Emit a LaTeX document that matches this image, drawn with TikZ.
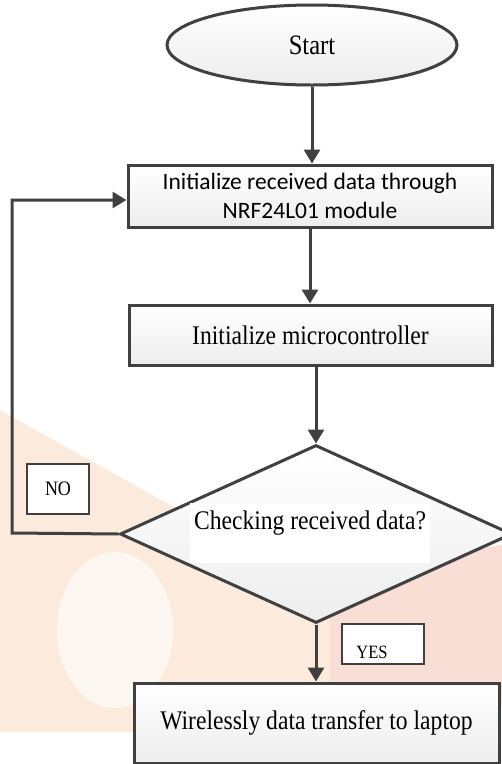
\documentclass[tikz,border=0pt]{standalone}
\usepackage{fontspec}
\setmainfont{Liberation Serif}
\newfontfamily\calib{Carlito}
\usetikzlibrary{shapes.geometric,arrows.meta,shadows}
\definecolor{ln}{HTML}{404040}
\definecolor{peach}{HTML}{FCEBDD}
\definecolor{pinkish}{HTML}{F9DED6}
\newcommand{\tall}[1]{\scalebox{1}[1.14]{#1}}
\begin{document}
\begin{tikzpicture}[x=1pt,y=-1pt,
  shp/.style={draw=ln,line width=3pt,top color=white,bottom color=gray!14,
    drop shadow={shadow xshift=1.5pt,shadow yshift=-1.5pt,opacity=0.25}},
  procbox/.style={shp,rectangle,inner sep=0pt,font=\fontsize{23.6}{27}\selectfont},
  tagbox/.style={draw=ln,line width=2.8pt,fill=white,rectangle,inner sep=0pt,
    drop shadow={shadow xshift=1pt,shadow yshift=-1pt,opacity=0.25}},
  arr/.style={draw=ln,line width=3pt,-{Triangle[width=16pt,length=14pt]}}]
\useasboundingbox (0,0) rectangle (502,764);
% faint watermark
\fill[peach] (0,410) -- (170,505) -- (330,570) -- (330,732) -- (0,732) -- cycle;
\fill[pinkish] (330,572) -- (502,545) -- (502,705) -- (330,705) -- cycle;
\fill[white,opacity=0.6] (115,630) ellipse (58 and 78);
% nodes
\node[shp,ellipse,minimum width=290,minimum height=80,inner sep=0pt,
  font=\fontsize{24.6}{28}\selectfont] (start) at (312,45) {\tall{Start}};
\node[procbox,minimum width=364,minimum height=62,align=center,
  font=\calib\fontsize{23.5}{29}\selectfont] (b1) at (310,196)
  {Initialize received data through\\NRF24L01 module};
\node[procbox,minimum width=363,minimum height=60] (b2) at (310.5,335)
  {\tall{Initialize microcontroller}};
\node[shp,diamond,minimum width=392,minimum height=178,aspect=2.2,inner sep=0pt] (dec) at (316,534) {};
\node[fill=white,minimum width=240,minimum height=60,inner sep=0pt] (declab) at (310,533) {};
\node[font=\fontsize{23.6}{27}\selectfont,inner sep=0pt] (dectext) at (310,523) {\tall{Checking received data?}};
\node[procbox,minimum width=365,minimum height=80] (b3) at (316.5,723)
  {\tall{Wirelessly data transfer to laptop}};
\node[tagbox,minimum width=62,minimum height=50,font=\fontsize{18}{20}\selectfont] (no) at (58,489) {\tall{NO}};
\node[tagbox,minimum width=82,minimum height=40] (yes) at (383,644) {};
\node[anchor=base,inner sep=0pt,font=\fontsize{16.5}{18}\selectfont] (yestext) at (372,658) {\tall{YES}};
% connectors
\coordinate (l1) at (12,533);
\coordinate (l2) at (12,200);
\draw[arr] (start.south) -- (start.south |- b1.north);
\draw[arr] (b1.south) -- (b1.south |- b2.north);
\draw[arr] (dec.north |- b2.south) -- (dec.north);
\draw[arr] (dec.west) -- (l1) -- (l2) -- (l2 -| b1.west);
\draw[arr] (dec.south) -- (dec.south |- b3.north);
\end{tikzpicture}
\end{document}
